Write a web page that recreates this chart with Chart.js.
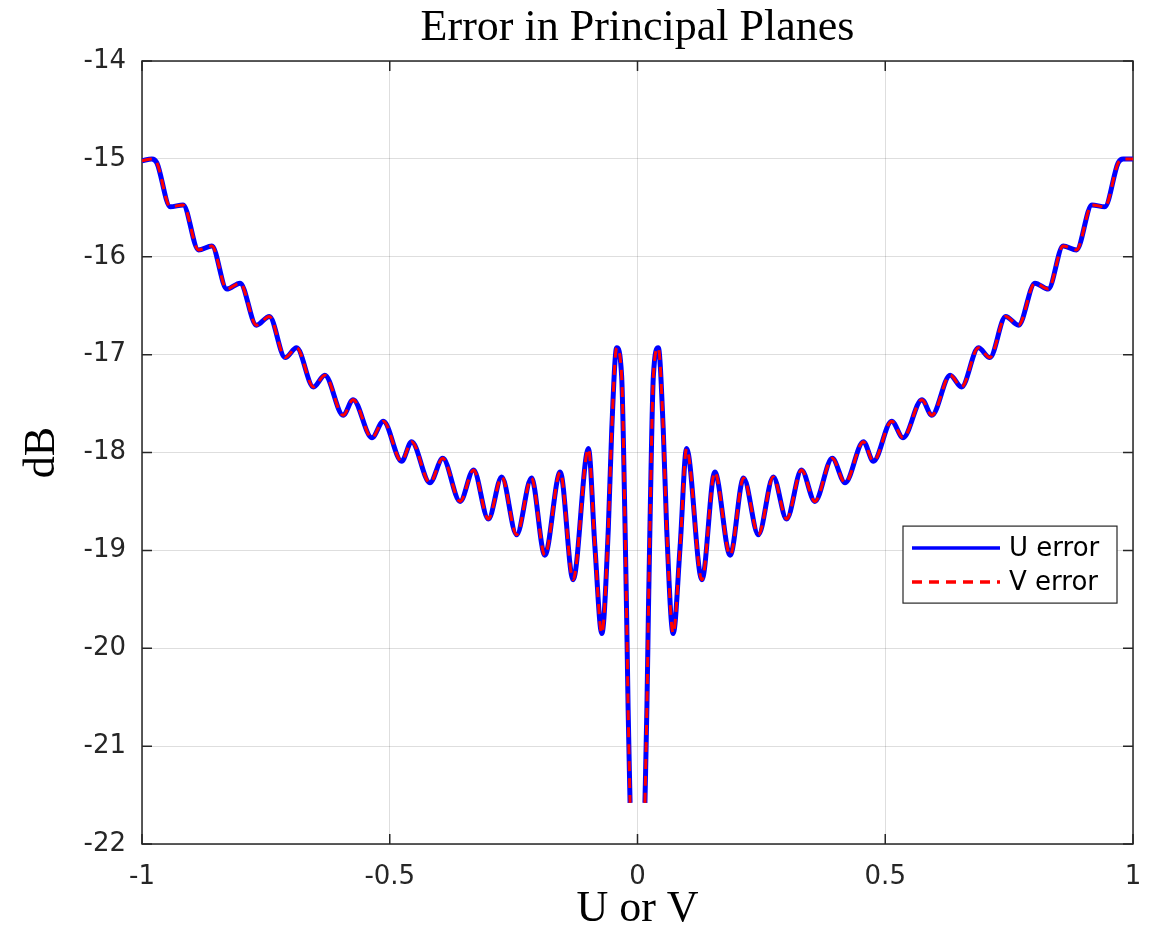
<!DOCTYPE html>
<html>
<head>
<meta charset="utf-8">
<script src="https://cdn.jsdelivr.net/npm/chart.js@4"></script>
<style>
  body { margin: 0; background: #fff; }
  canvas { display: block; }
</style>
</head>
<body>
<canvas id="errcnv" width="1158" height="936"></canvas>
<script>
// sample positions (U or V), null value at 0 leaves the gap in the middle
const xValues = [
  -1, -0.98, -0.97, -0.943, -0.917, -0.886, -0.859, -0.829, -0.802, -0.769,
  -0.743, -0.711, -0.688, -0.654, -0.631, -0.594, -0.574, -0.536, -0.513, -0.476,
  -0.456, -0.419, -0.393, -0.358, -0.331, -0.301, -0.274, -0.244, -0.214, -0.187,
  -0.156, -0.130, -0.099, -0.086, -0.072, -0.059, -0.052, -0.042, -0.032, -0.025,
  -0.022, -0.019, -0.015, 0,
  0.015, 0.019, 0.022, 0.025, 0.032, 0.042, 0.052, 0.059, 0.072, 0.086,
  0.099, 0.130, 0.156, 0.187, 0.214, 0.244, 0.274, 0.301, 0.331, 0.358,
  0.393, 0.419, 0.456, 0.476, 0.513, 0.536, 0.574, 0.594, 0.631, 0.654,
  0.688, 0.711, 0.743, 0.769, 0.802, 0.829, 0.859, 0.886, 0.917, 0.943,
  0.97, 0.98, 1
];

const uError = [
  -15.02, -15.00, -15.04, -15.49, -15.47, -15.93, -15.89, -16.33, -16.27, -16.70,
  -16.61, -17.03, -16.93, -17.33, -17.21, -17.62, -17.46, -17.85, -17.68, -18.09,
  -17.89, -18.31, -18.06, -18.50, -18.18, -18.68, -18.25, -18.84, -18.26, -19.05,
  -18.20, -19.30, -17.96, -18.96, -19.85, -18.79, -17.77, -16.93, -17.22, -18.79,
  -19.64, -20.60, -21.58, null,
  -21.58, -20.60, -19.64, -18.79, -17.22, -16.93, -17.77, -18.79, -19.85, -18.96,
  -17.96, -19.30, -18.20, -19.05, -18.26, -18.84, -18.25, -18.68, -18.18, -18.50,
  -18.06, -18.31, -17.89, -18.09, -17.68, -17.85, -17.46, -17.62, -17.21, -17.33,
  -16.93, -17.03, -16.61, -16.70, -16.27, -16.33, -15.89, -15.93, -15.47, -15.49,
  -15.04, -15.00, -15.00
];

const vError = [
  -15.02, -15.00, -15.04, -15.49, -15.47, -15.93, -15.89, -16.33, -16.27, -16.70,
  -16.61, -17.03, -16.93, -17.33, -17.21, -17.62, -17.46, -17.85, -17.68, -18.09,
  -17.89, -18.31, -18.06, -18.50, -18.18, -18.68, -18.25, -18.84, -18.26, -19.05,
  -18.20, -19.30, -17.96, -18.96, -19.85, -18.79, -17.77, -16.93, -17.22, -18.79,
  -19.64, -20.60, -21.58, null,
  -21.58, -20.60, -19.64, -18.79, -17.22, -16.93, -17.77, -18.79, -19.85, -18.96,
  -17.96, -19.30, -18.20, -19.05, -18.26, -18.84, -18.25, -18.68, -18.18, -18.50,
  -18.06, -18.31, -17.89, -18.09, -17.68, -17.85, -17.46, -17.62, -17.21, -17.33,
  -16.93, -17.03, -16.61, -16.70, -16.27, -16.33, -15.89, -15.93, -15.47, -15.49,
  -15.04, -15.00, -15.00
];

const seriesLabels = ['U error', 'V error'];
const xTicks = [-1, -0.5, 0, 0.5, 1];
const yTicks = [-22, -21, -20, -19, -18, -17, -16, -15, -14];

const axisColor = '#262626';
const tickFont = { family: 'DejaVu Sans', size: 26 };
const serifFont = { family: 'Liberation Serif', size: 44, weight: 'normal', lineHeight: 1.1 };

function toPoints(ys) {
  return xValues.map((x, i) => ({ x: x, y: ys[i] }));
}

// matlab style box with inward tick marks
const boxPlugin = {
  id: 'box',
  beforeDatasetsDraw(chart) {
    const { ctx, chartArea: a, scales } = chart;
    ctx.save();
    ctx.strokeStyle = axisColor;
    ctx.lineWidth = 1.5;
    ctx.strokeRect(a.left, a.top, a.right - a.left, a.bottom - a.top);
    const len = 10;
    ctx.beginPath();
    xTicks.forEach(v => {
      const px = scales.x.getPixelForValue(v);
      ctx.moveTo(px, a.bottom); ctx.lineTo(px, a.bottom - len);
      ctx.moveTo(px, a.top); ctx.lineTo(px, a.top + len);
    });
    yTicks.forEach(v => {
      const py = scales.y.getPixelForValue(v);
      ctx.moveTo(a.left, py); ctx.lineTo(a.left + len, py);
      ctx.moveTo(a.right, py); ctx.lineTo(a.right - len, py);
    });
    ctx.stroke();
    ctx.restore();
  }
};

const legendPlugin = {
  id: 'boxLegend',
  afterDatasetsDraw(chart) {
    const { ctx, chartArea: a } = chart;
    const w = 214, h = 77;
    const x0 = a.right - 16 - w;
    const y0 = a.top + (a.bottom - a.top) * 0.594;
    ctx.save();
    ctx.fillStyle = '#fff';
    ctx.fillRect(x0, y0, w, h);
    ctx.strokeStyle = axisColor;
    ctx.lineWidth = 1.2;
    ctx.strokeRect(x0, y0, w, h);
    ctx.font = '26px "DejaVu Sans"';
    ctx.textBaseline = 'middle';
    [...chart.data.datasets].sort((p, q) => q.order - p.order).forEach((ds, i) => {
      const cy = y0 + 22 + i * 34;
      ctx.beginPath();
      ctx.strokeStyle = ds.borderColor;
      ctx.lineWidth = 3.5;
      ctx.setLineDash(ds.borderDash || []);
      ctx.moveTo(x0 + 9, cy);
      ctx.lineTo(x0 + 97, cy);
      ctx.stroke();
      ctx.setLineDash([]);
      ctx.fillStyle = '#000';
      ctx.fillText(ds.label, x0 + 106, cy + 1);
    });
    ctx.restore();
  }
};

const ctx = document.getElementById('errcnv').getContext('2d');
new Chart(ctx, {
  type: 'line',
  data: {
    datasets: [
      {
        label: seriesLabels[0],
        data: toPoints(uError),
        borderColor: '#0000ff',
        borderWidth: 5,
        pointRadius: 0,
        spanGaps: false,
        cubicInterpolationMode: 'monotone',
        order: 2
      },
      {
        label: seriesLabels[1],
        data: toPoints(vError),
        borderColor: '#ff0000',
        borderWidth: 3,
        borderDash: [10, 7],
        pointRadius: 0,
        spanGaps: false,
        cubicInterpolationMode: 'monotone',
        order: 1
      }
    ]
  },
  options: {
    responsive: false,
    animation: false,
    layout: { padding: { left: 0, right: 25, top: 0, bottom: 0 } },
    plugins: {
      legend: { display: false },
      tooltip: { enabled: false },
      title: {
        display: true,
        text: 'Error in Principal Planes',
        fullSize: false,
        color: '#000',
        font: serifFont,
        padding: { top: 4, bottom: 8.6 }
      }
    },
    scales: {
      x: {
        type: 'linear',
        min: -1,
        max: 1,
        afterBuildTicks: scale => { scale.ticks = xTicks.map(v => ({ value: v })); },
        afterFit: scale => {
          scale.height = 92;
          scale.paddingLeft = 0;
          scale.paddingRight = 0;
        },
        border: { display: false },
        grid: { color: 'rgba(0,0,0,0.13)', drawTicks: false, lineWidth: 1 },
        ticks: {
          color: axisColor,
          font: tickFont,
          padding: 18,
          maxRotation: 0,
          callback: v => String(v)
        },
        title: {
          display: true,
          text: 'U or V',
          color: '#000',
          font: serifFont,
          padding: { top: 0, bottom: 2 }
        }
      },
      y: {
        min: -22,
        max: -14,
        afterBuildTicks: scale => { scale.ticks = yTicks.map(v => ({ value: v })); },
        afterFit: scale => { scale.width = 142; },
        border: { display: false },
        grid: { color: 'rgba(0,0,0,0.13)', drawTicks: false, lineWidth: 1 },
        ticks: { color: axisColor, font: tickFont, padding: 16 },
        title: {
          display: true,
          text: 'dB',
          color: '#000',
          font: serifFont,
          padding: { top: 18, bottom: 0 }
        }
      }
    }
  },
  plugins: [boxPlugin, legendPlugin]
});
</script>
</body>
</html>
